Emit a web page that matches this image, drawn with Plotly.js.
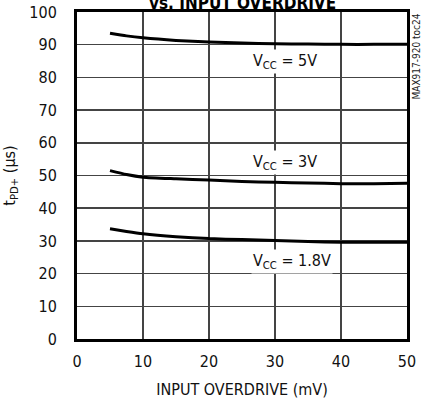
<!DOCTYPE html>
<html>
<head>
<meta charset="utf-8">
<script src="https://cdn.plot.ly/plotly-3.0.1.min.js"></script>
<style>html,body{margin:0;padding:0;background:#fff;}#chart{width:433px;height:403px;}</style>
</head>
<body>
<div id="chart"></div>
<script>
const overdrive = [5, 7.5, 10, 15, 20, 25, 30, 35, 40, 45, 50];
const vcc5 = [93.5, 92.7, 92.1, 91.3, 90.8, 90.5, 90.3, 90.2, 90.1, 90.1, 90.1];
const vcc3 = [51.5, 50.3, 49.5, 49.0, 48.6, 48.2, 47.9, 47.7, 47.5, 47.5, 47.6];
const vcc18 = [33.7, 32.9, 32.2, 31.3, 30.7, 30.4, 30.1, 29.8, 29.6, 29.6, 29.6];
const seriesLabels = ["V<sub>CC</sub> = 5V", "V<sub>CC</sub> = 3V", "V<sub>CC</sub> = 1.8V"];
const labelPos = [[31.5, 84.8], [31.5, 54.0], [32.5, 23.8]];
const xTicks = [0, 10, 20, 30, 40, 50];
const yTicks = [0, 10, 20, 30, 40, 50, 60, 70, 80, 90, 100];

const FONT = '"DejaVu Sans Condensed", "Liberation Sans Narrow", Arial, sans-serif';
const lineStyle = {color: '#000', width: 3, shape: 'spline', smoothing: 0.6};
const traces = [vcc5, vcc3, vcc18].map(v => ({
  x: overdrive, y: v, mode: 'lines', line: lineStyle, hoverinfo: 'skip'
}));

const annotations = seriesLabels.map((t, i) => ({
  x: labelPos[i][0], y: labelPos[i][1], xref: 'x', yref: 'y', text: t,
  showarrow: false, bgcolor: '#fff', font: {family: FONT, size: 16, color: '#111'}, borderpad: 1
}));
annotations.push({
  x: 0.5, y: 1, xref: 'paper', yref: 'paper', xanchor: 'center', yanchor: 'bottom', yshift: -3,
  text: '<b>vs. INPUT OVERDRIVE</b>', showarrow: false, font: {family: FONT, size: 17, color: '#000'}
});
annotations.push({
  x: 1, y: 1, xref: 'paper', yref: 'paper', xanchor: 'left', yanchor: 'top', xshift: 1, yshift: 0,
  text: 'MAX917-920 toc24', textangle: -90, showarrow: false,
  font: {family: FONT, size: 10, color: '#222'}
});

const layout = {
  width: 433, height: 403,
  margin: {l: 77, r: 26, t: 11.5, b: 63.5},
  paper_bgcolor: '#fff', plot_bgcolor: '#fff',
  showlegend: false,
  font: {family: FONT, size: 16, color: '#111'},
  xaxis: {
    range: [0, 50], tickvals: xTicks, ticktext: xTicks.map(String),
    showgrid: true, gridcolor: '#444', gridwidth: 1.5,
    showline: true, linecolor: '#000', linewidth: 3, mirror: true,
    ticks: 'outside', ticklen: 6, tickcolor: 'rgba(0,0,0,0)',
    zeroline: false, fixedrange: true,
    title: {text: 'INPUT OVERDRIVE (mV)', font: {family: FONT, size: 16}, standoff: 14}
  },
  yaxis: {
    range: [0, 100], tickvals: yTicks, ticktext: yTicks.map(String),
    showgrid: true, gridcolor: '#444', gridwidth: 1.5,
    showline: true, linecolor: '#000', linewidth: 3, mirror: true,
    ticks: 'outside', ticklen: 14, tickcolor: 'rgba(0,0,0,0)',
    zeroline: false, fixedrange: true,
    title: {text: 't<sub>PD+</sub> (µs)', font: {family: FONT, size: 16}, standoff: 12}
  },
  annotations: annotations
};
Plotly.newPlot('chart', traces, layout, {displayModeBar: false, staticPlot: true});
</script>
</body>
</html>
